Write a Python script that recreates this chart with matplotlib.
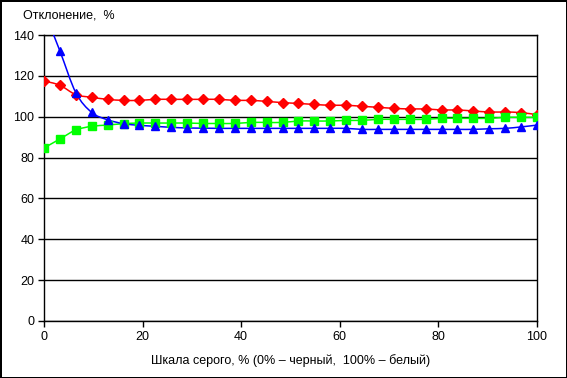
import numpy as np
import matplotlib
matplotlib.use("Agg")
import matplotlib.pyplot as plt
from matplotlib.path import Path
from matplotlib.patches import PathPatch

# gray scale steps: 32 points from 0 to 100 %
x_vals = np.linspace(0, 100, 32)

red_vals = [117.5, 115.4, 110.8, 109.5, 108.5, 108.0, 108.0, 108.5, 108.5, 108.5,
            108.5, 108.5, 108.0, 108.0, 107.5, 106.9, 106.5, 106.0, 105.6, 105.6,
            105.1, 104.6, 104.1, 103.8, 103.8, 103.3, 103.3, 102.8, 102.3, 102.3,
            102.0, 101.0]
green_vals = [84.7, 89.1, 93.5, 95.3, 95.9, 96.6, 96.9, 96.9, 96.9, 96.9,
              96.7, 96.7, 96.7, 97.2, 97.2, 97.2, 97.9, 97.9, 97.9, 98.2,
              98.2, 98.7, 98.7, 98.7, 98.7, 99.2, 99.2, 99.2, 99.2, 99.7,
              99.7, 99.7]
blue_vals = [152.0, 132.2, 111.8, 102.1, 98.5, 96.6, 95.8, 95.3, 94.8, 94.5,
             94.4, 94.3, 94.3, 94.3, 94.3, 94.3, 94.3, 94.3, 94.3, 94.3,
             93.8, 93.8, 93.8, 93.8, 93.8, 93.8, 93.8, 93.8, 94.1, 94.3,
             95.0, 95.9]

y_ticks = [0, 20, 40, 60, 80, 100, 120, 140]
x_ticks = [0, 20, 40, 60, 80, 100]

plt.rcParams["font.family"] = ["Liberation Sans", "DejaVu Sans"]
plt.rcParams["font.size"] = 9


def smooth_path(xs, ys):
    # Excel-like smoothed line: Catmull-Rom segments as cubic Bezier
    pts = np.column_stack([xs, ys]).astype(float)
    n = len(pts)
    verts = [pts[0]]
    codes = [Path.MOVETO]
    for i in range(n - 1):
        p0 = pts[max(i - 1, 0)]
        p1 = pts[i]
        p2 = pts[i + 1]
        p3 = pts[min(i + 2, n - 1)]
        c1 = p1 + (p2 - p0) / 6.0
        c2 = p2 - (p3 - p1) / 6.0
        verts += [c1, c2, p2]
        codes += [Path.CURVE4] * 3
    return Path(verts, codes)


fig = plt.figure(figsize=(5.67, 3.78), dpi=100)
fig.patch.set_edgecolor("black")
fig.patch.set_linewidth(2)
ax = fig.add_axes([0.0776, 0.1508, 0.8694, 0.7566])

series = [
    (red_vals, "#ff0000", "D", 4.8),
    (green_vals, "#00ff00", "s", 5.8),
    (blue_vals, "#0000ff", "^", 5.8),
]
for vals, col, mk, ms in series:
    patch = PathPatch(smooth_path(x_vals, vals), facecolor="none",
                      edgecolor=col, lw=1.1, zorder=3)
    ax.add_patch(patch)
    ax.plot(x_vals, vals, ls="none", marker=mk, ms=ms, color=col,
            markeredgecolor=col, zorder=4)

ax.set_xlim(0, 100)
ax.set_ylim(0, 140)
ax.set_xticks(x_ticks)
ax.set_yticks(y_ticks)
ax.grid(axis="y", color="black", lw=1.0)
ax.set_axisbelow(True)
for sp in ax.spines.values():
    sp.set_linewidth(1.0)
ax.tick_params(direction="out", length=4, width=1.0, labelsize=9, pad=3)

ax.set_xlabel("Шкала серого, % (0% – черный,  100% – белый)", fontsize=9, labelpad=8)
fig.text(0.04, 0.96, "Отклонение,  %", fontsize=9, ha="left", va="center")

plt.savefig("out.png", dpi=100)
plt.close()
